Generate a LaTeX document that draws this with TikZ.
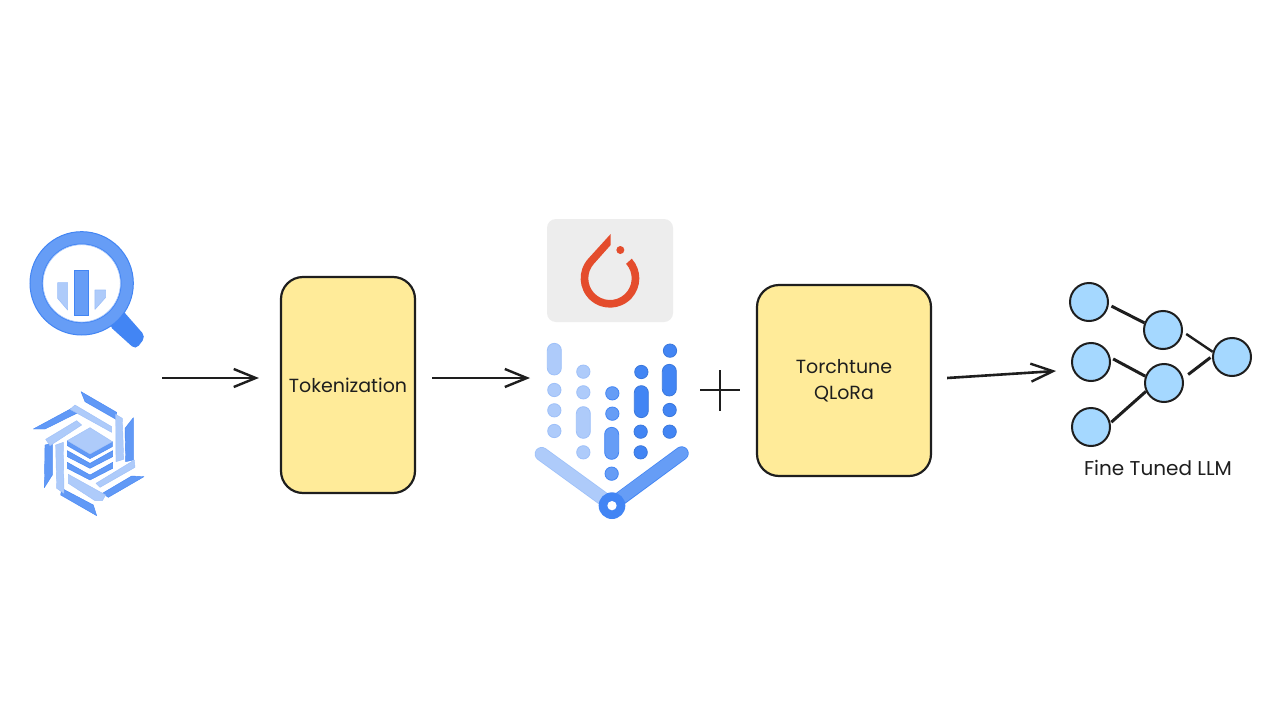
\documentclass[tikz,border=0pt]{standalone}
\usepackage{fontspec}
\setmainfont{Poppins}
\usetikzlibrary{arrows.meta,calc}
\definecolor{ink}{HTML}{1E1E1E}
\definecolor{sticky}{HTML}{FFEB99}
\definecolor{netblue}{HTML}{A5D8FF}
\definecolor{gl}{HTML}{AECBFA}
\definecolor{gm}{HTML}{669DF6}
\definecolor{gd}{HTML}{4285F4}
\definecolor{ptred}{HTML}{E44C2C}
\tikzset{
  flow/.style={draw=ink,line width=2pt,-{Straight Barb[length=22pt,width=18pt,line width=2.4pt]}},
  stickybox/.style={draw=ink,line width=2.2pt,fill=sticky,rounded corners=22pt,font=\fontsize{19}{26}\selectfont,text=ink,align=center},
  netnode/.style={circle,draw=ink,line width=2pt,fill=netblue,minimum size=38pt,inner sep=0pt},
  netedge/.style={draw=ink,line width=2.4pt},
  nethick/.style={draw=ink,line width=3pt},
  pl/.style={fill=gl,draw=gl!85!gd,line width=.8pt,line join=round},
  pm/.style={fill=gm,draw=gd,line width=.8pt,line join=round},
  pd/.style={fill=gd,draw=gd!90!black,line width=.8pt,line join=round},
  hexd/.style={fill=gm!85!gd,draw=gd!90!gm,line width=.4pt,line join=round},
  hexl/.style={fill=gl,draw=gl!85!gd,line width=.4pt,line join=round},
  label/.style={font=\fontsize{20}{24}\selectfont,text=ink}
}
\newcommand{\zdot}[4]{\draw[#1] (#2,#3) circle (#4);}
\newcommand{\zpill}[4]{\draw[#1,rounded corners=7pt] (#2-21,#3) rectangle (#2+21,#4);}
\begin{document}
\begin{tikzpicture}[x=1pt,y=-1pt]
\useasboundingbox[fill=white] (0,0) rectangle (1280,720);

% BigQuery logo
\begin{scope}[shift={(10,220)},xscale=1/3,yscale=1/3]
  \fill[gd,rounded corners=5pt] (335,268) -- (407,350) -- (377,389) -- (295,315) -- cycle;
  \fill[gm,draw=gd,line width=1pt,even odd rule] (215,190) circle (155) (215,190) circle (118);
  \draw[gm!60,line width=.6pt] (215,190) circle (116);
  \draw[pm,line width=.6pt] (193,150) rectangle (236,287);
  \draw[pl,line width=.6pt] (143,188) -- (173,188) -- (173,270) -- (143,235) -- cycle;
  \draw[pl,line width=.6pt] (255,210) -- (287,210) -- (287,232) -- (255,268) -- cycle;
\end{scope}

% Hexagon logo
\begin{scope}[shift={(15,380)},xscale=1/3,yscale=1/3]
  \draw[hexd] (198,35) -- (305,97) -- (303,118) -- (210,65) -- cycle;
  \draw[hexd] (355,113) -- (355,240) -- (332,245) -- (330,145) -- cycle;
  \draw[hexd] (387,290) -- (280,352) -- (262,340) -- (350,288) -- cycle;
  \draw[hexd] (245,407) -- (137,345) -- (140,325) -- (235,375) -- cycle;
  \draw[hexd] (88,323) -- (90,195) -- (112,190) -- (112,285) -- cycle;
  \draw[hexd] (55,147) -- (170,85) -- (185,100) -- (90,147) -- cycle;
  \draw[hexl] (165,88) -- (180,75) -- (290,140) -- (290,157) -- cycle;
  \draw[hexl] (302,103) -- (322,115) -- (326,238) -- (303,245) -- cycle;
  \draw[hexl] (358,240) -- (360,262) -- (255,322) -- (243,310) -- cycle;
  \draw[hexl] (160,283) -- (272,345) -- (262,362) -- (240,362) -- (160,310) -- cycle;
  \draw[hexl] (122,195) -- (145,187) -- (147,340) -- (125,325) -- cycle;
  \draw[hexl] (92,178) -- (185,122) -- (200,135) -- (105,197) -- cycle;
  % stacked layers
  \draw[hexd] (157,247) -- (225,285) -- (293,247) -- (293,265) -- (225,300) -- (157,265) -- cycle;
  \draw[hexd] (157,212) -- (225,250) -- (293,212) -- (293,230) -- (225,265) -- (157,230) -- cycle;
  \draw[hexd] (157,182) -- (225,222) -- (292,185) -- (292,200) -- (225,236) -- (157,197) -- cycle;
  \draw[hexl] (157,182) -- (225,143) -- (292,185) -- (225,222) -- cycle;
\end{scope}

% PyTorch logo
\fill[black!7,rounded corners=9pt] (547,219) rectangle (673,322);
\begin{scope}[shift={(540,210)},xscale=1/3,yscale=1/3]
  \fill[ptred] (212,72) -- (144.9,145.8)
     arc[start angle=222.3,end angle=-42,radius=88]
     -- (258.3,161.5)
     arc[start angle=-42,end angle=221.6,radius=65]
     -- (212,105) -- cycle;
  \fill[ptred] (241,120) circle (12);
\end{scope}

% Vertex logo
\begin{scope}[shift={(525,330)},xscale=1/3,yscale=1/3]
  \zpill{pl}{88}{40}{135}
  \zdot{pl}{88}{180}{20}\zdot{pl}{88}{241}{20}\zdot{pl}{88}{303}{20}
  \zdot{pl}{175}{125}{20}\zdot{pl}{175}{187}{20}
  \zpill{pl}{175}{230}{325}
  \zdot{pl}{175}{367}{20}
  \zdot{pm}{262}{190}{20}\zdot{pm}{262}{251}{20}
  \zpill{pm}{260}{292}{388}
  \zdot{pm}{260}{431}{20}
  \zdot{pd}{349}{126}{20}
  \zpill{pd}{349}{167}{263}
  \zdot{pd}{347}{305}{20}\zdot{pd}{347}{367}{20}
  \zdot{pd}{435}{62}{20}
  \zpill{pd}{433}{103}{198}
  \zdot{pd}{434}{240}{20}\zdot{pd}{434}{305}{20}
  \draw[gl!85!gd,line width=14pt,line cap=round] (50,372) -- (240,510);
  \draw[gl,line width=12.4pt,line cap=round] (50,372) -- (240,510);
  \draw[gd,line width=14pt,line cap=round] (470,370) -- (280,510);
  \draw[gm,line width=12.4pt,line cap=round] (470,370) -- (290,502);
  \fill[gd] (261,527) circle (40);
  \fill[white] (261,527) circle (14);
\end{scope}

% Flow
\coordinate (srcout) at (162,378);
\coordinate (vertexin) at (530,378);
\node[stickybox,minimum width=134pt,minimum height=216pt] (tok) at (348,385) {Tokenization};
\node[stickybox,minimum width=174pt,minimum height=191pt] (qlora) at (844,380.5) {Torchtune\\QLoRa};
\coordinate (plusL) at (700,390);\coordinate (plusR) at (740,390);
\coordinate (plusT) at (720,370);\coordinate (plusB) at (720,411);
\draw[ink,line width=1.9pt] (plusL) -- (plusR);
\draw[ink,line width=1.9pt] (plusT) -- (plusB);
\coordinate (netin) at (1056,371);

% Network
\node[netnode] (n1) at (1089,302) {};
\node[netnode] (n2) at (1163,330) {};
\node[netnode] (n3) at (1091,362) {};
\node[netnode] (n4) at (1164,383) {};
\node[netnode] (n5) at (1091,427) {};
\node[netnode] (n6) at (1232,357) {};
\draw[nethick,shorten <=3pt] (n1.-8) -- (n2.159);
\draw[nethick,shorten <=3pt] (n3.13) -- (n4.160);
\draw[nethick,shorten <=1pt] (n5.12) -- (n4.205);
\draw[netedge,shorten <=4pt] (n2.-5) -- (n6.165);
\draw[nethick,shorten <=6pt,shorten >=2pt] (n4.14) -- (n6.178);
\node[label] (ftl) at (1158,468) {Fine Tuned LLM};

\coordinate (tokin) at ($(tok.west)+(-21,-7)$);
\coordinate (tokout) at ($(tok.east)+(16,-7)$);
\coordinate (qout) at ($(qlora.east)+(15,-2.5)$);
\draw[flow] (srcout) -- (tokin);
\draw[flow] (tokout) -- (vertexin);
\draw[flow,line width=2.6pt] (qout) -- (netin);
\end{tikzpicture}
\end{document}
